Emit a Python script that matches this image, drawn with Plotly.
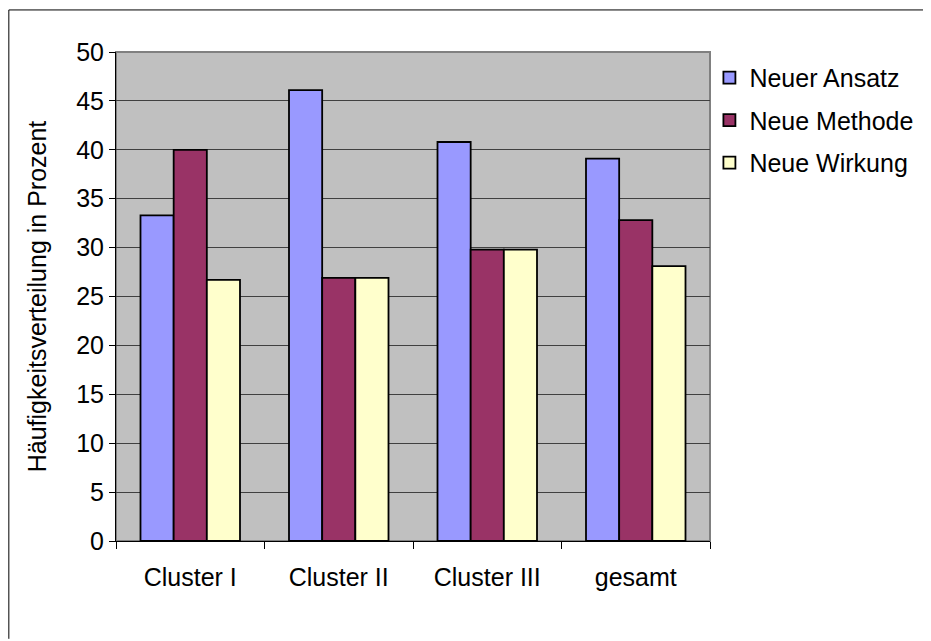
import plotly.graph_objects as go

categories = ["Cluster I", "Cluster II", "Cluster III", "gesamt"]
neuer_ansatz = [33.3, 46.1, 40.8, 39.1]
neue_methode = [40.0, 26.9, 29.8, 32.8]
neue_wirkung = [26.7, 26.9, 29.8, 28.1]

series = [
    ("Neuer Ansatz", neuer_ansatz, "#9999FF"),
    ("Neue Methode", neue_methode, "#993366"),
    ("Neue Wirkung", neue_wirkung, "#FFFFCC"),
]

fig = go.Figure()
for name, vals, col in series:
    fig.add_trace(go.Bar(
        x=categories, y=vals, name=name, legendgroup=name,
        marker=dict(color=col, line=dict(color="black", width=1.8)),
    ))

font = "Liberation Sans, Arial, sans-serif"

# page has an 8px body margin, so the figure is a bit smaller than the window
fig.update_layout(
    width=923, height=633,
    paper_bgcolor="white", plot_bgcolor="#C0C0C0",
    margin=dict(l=108, r=219, t=44, b=100),
    barmode="group", bargap=0.33, bargroupgap=0,
    font=dict(family=font, size=25, color="black"),
    legend=dict(x=0.999, y=0.994, xanchor="left", yanchor="top", itemwidth=30,
                font=dict(size=25), tracegroupgap=7, bgcolor="rgba(0,0,0,0)"),
    shapes=[
        # plot area border
        dict(type="rect", xref="paper", yref="paper", x0=0, x1=1, y0=0, y1=1,
             line=dict(color="#808080", width=2), layer="below"),
        # chart frame, only left and top edges are inside the picture
        dict(type="line", xref="paper", yref="paper", x0=-0.1804, x1=-0.1804, y0=1.086, y1=-0.2,
             line=dict(color="black", width=1)),
        dict(type="line", xref="paper", yref="paper", x0=-0.1804, x1=1.4, y0=1.086, y1=1.086,
             line=dict(color="black", width=1)),
    ],
)

fig.update_yaxes(
    range=[0, 50], dtick=5, showgrid=True, gridcolor="#404040", gridwidth=1,
    ticks="outside", ticklen=6, tickcolor="black",
    showline=True, linecolor="black", linewidth=1,
    tickfont=dict(size=25), zeroline=False,
    title=dict(text="Häufigkeitsverteilung in Prozent", font=dict(size=25), standoff=22),
)
fig.update_xaxes(
    ticks="outside", tickson="boundaries", ticklen=7, tickcolor="black",
    showline=True, linecolor="black", linewidth=1,
    tickfont=dict(size=25), ticklabelstandoff=14,
)

fig.write_html("out.html")
